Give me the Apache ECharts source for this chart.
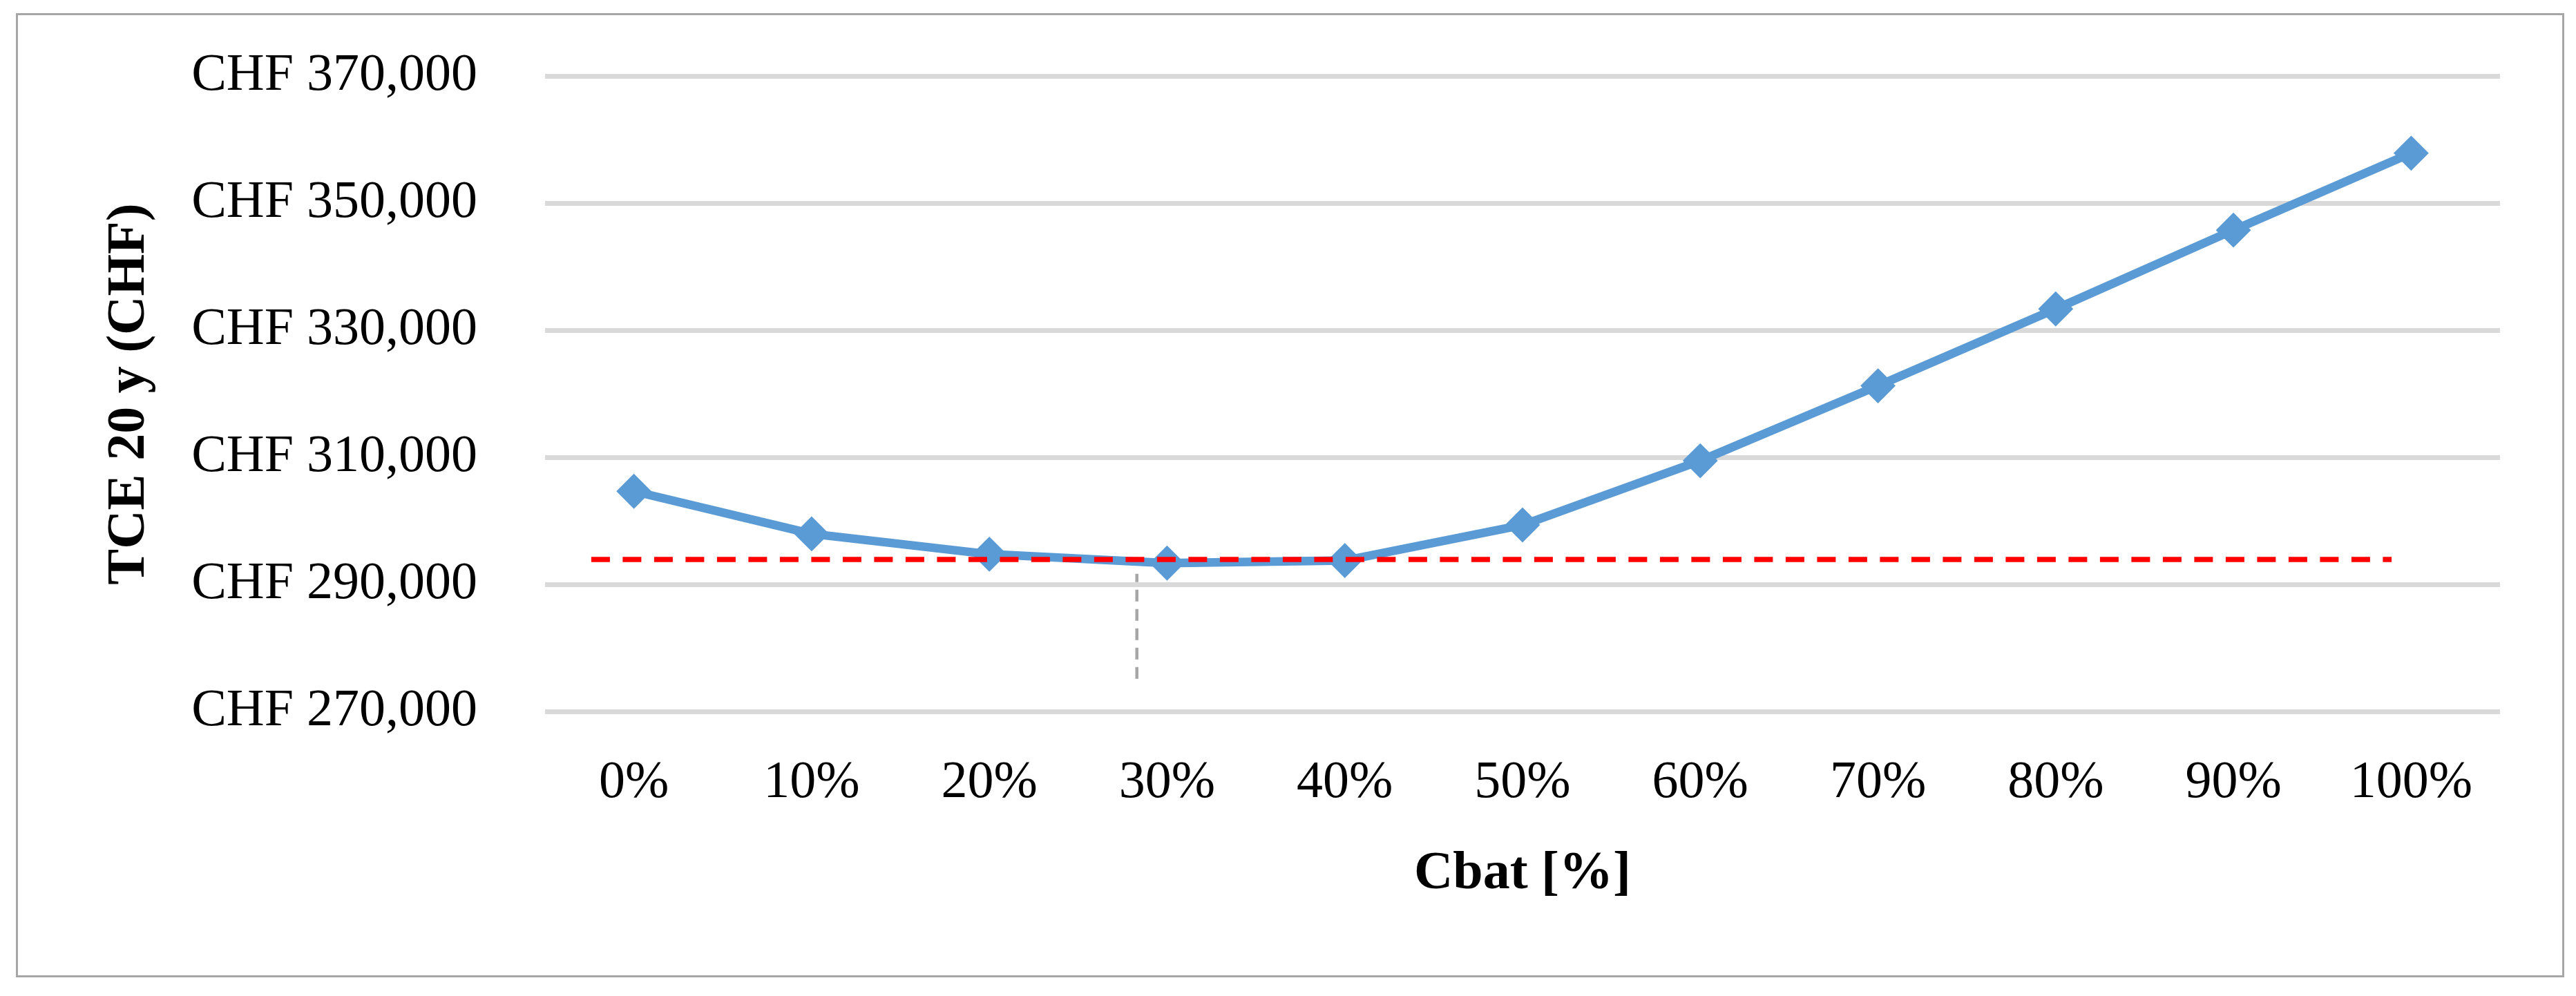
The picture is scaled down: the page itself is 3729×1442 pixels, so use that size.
<!DOCTYPE html>
<html>
<head>
<meta charset="utf-8">
<script src="https://cdn.jsdelivr.net/npm/echarts@6/dist/echarts.min.js"></script>
<style>
html,body{margin:0;padding:0;background:#fff;}
#chart{width:3729px;height:1442px;}
</style>
</head>
<body>
<div id="chart"></div>
<script>
// ---- data ----
const categories = ['0%','10%','20%','30%','40%','50%','60%','70%','80%','90%','100%'];
const tceValues = [304700, 298000, 294800, 293400, 293800, 299400, 309500, 321300, 333400, 345800, 357900];
const yTickValues = [270000, 290000, 310000, 330000, 350000, 370000];
// red dashed reference (x in category index units, y in CHF)
const refLineX = [-0.24, 9.89];
const refLineY = [293970, 293970];
// grey dashed optimum marker
const optMarkX = [2.83, 2.83];
const optMarkY = [275200, 291700];

const FONT = '"Liberation Serif", "Times New Roman", serif';

const chart = echarts.init(document.getElementById('chart'), null, {renderer:'canvas'});

function fmtCHF(v){
  return 'CHF ' + String(v).replace(/\B(?=(\d{3})+(?!\d))/g, ',');
}

const option = {
  backgroundColor: '#ffffff',
  animation: false,
  graphic: [{
    type: 'rect',
    shape: {x: 24.5, y: 20.5, width: 3686, height: 1393},
    style: {fill: 'none', stroke: '#A6A6A6', lineWidth: 3},
    silent: true,
    z: -10
  }],
  grid: {left: 789, right: 110, top: 110.5, bottom: 411.5, containLabel: false},
  xAxis: [{
    type: 'category',
    data: categories,
    boundaryGap: true,
    axisLine: {show: false},
    axisTick: {show: false},
    axisLabel: {fontFamily: FONT, fontSize: 76, color: '#000', margin: 66, lineHeight: 76},
    name: 'Cbat [%]',
    nameLocation: 'middle',
    nameGap: 196,
    nameTextStyle: {fontFamily: FONT, fontSize: 78, fontWeight: 'bold', color: '#000'}
  }, {
    type: 'value',
    min: -0.5,
    max: 10.5,
    show: false
  }],
  yAxis: {
    type: 'value',
    min: yTickValues[0],
    max: yTickValues[yTickValues.length - 1],
    interval: yTickValues[1] - yTickValues[0],
    axisLine: {show: false},
    axisTick: {show: false},
    splitLine: {lineStyle: {color: '#D9D9D9', width: 7}},
    axisLabel: {fontFamily: FONT, fontSize: 76, color: '#000', margin: 98, formatter: fmtCHF},
    name: 'TCE 20 y (CHF)',
    nameLocation: 'middle',
    nameRotate: 90,
    nameGap: 562,
    nameTextStyle: {fontFamily: FONT, fontSize: 78, fontWeight: 'bold', color: '#000'}
  },
  series: [{
    type: 'line',
    xAxisIndex: 1,
    data: optMarkX.map((x, i) => [x, optMarkY[i]]),
    symbol: 'none',
    lineStyle: {color: '#A6A6A6', width: 4.5, type: [17, 11]},
    z: 1
  }, {
    type: 'line',
    xAxisIndex: 1,
    data: refLineX.map((x, i) => [x, refLineY[i]]),
    symbol: 'none',
    lineStyle: {color: '#FF0000', width: 7.5, type: [27, 18.5]},
    z: 3
  }, {
    type: 'line',
    xAxisIndex: 0,
    data: tceValues,
    symbol: 'diamond',
    symbolSize: 48,
    itemStyle: {color: '#5B9BD5', borderColor: '#5B9BD5', borderWidth: 2},
    lineStyle: {color: '#5B9BD5', width: 12.5},
    z: 2
  }]
};
chart.setOption(option);
</script>
</body>
</html>
